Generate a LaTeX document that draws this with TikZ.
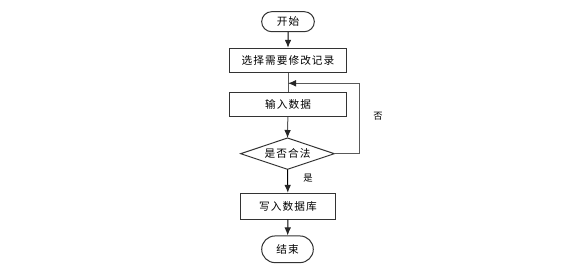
\documentclass[tikz,border=0pt]{standalone}
\usepackage{fontspec}
\newfontfamily\cjk[LetterSpace=10]{Noto Sans CJK SC}
\usetikzlibrary{shapes.misc,arrows.meta}
\begin{document}
\begin{tikzpicture}[x=0.75pt,y=-0.75pt,
  every node/.style={font=\cjk\fontsize{8pt}{9.6pt}\selectfont, inner sep=0pt},
  box/.style={draw=black!80, line width=0.75pt, rectangle, anchor=center},
  term/.style={draw=black!80, line width=0.75pt, rounded rectangle, anchor=center},
  lbl/.style={font=\cjk\fontsize{7pt}{8.4pt}\selectfont},
  conn/.style={draw=black!65, line width=0.75pt, -{Latex[length=6pt,width=5pt,color=black!85]}},
  plain/.style={draw=black!65, line width=0.75pt}]
\useasboundingbox (0,0) rectangle (568,271);
\node[term, minimum width=39.5pt, minimum height=15pt] (start) at (288,21.7) {开始};
\node[box, minimum width=88pt, minimum height=18.3pt] (b1) at (288,60.5) {选择需要修改记录};
\node[box, minimum width=88pt, minimum height=18pt] (b2) at (288,104.7) {输入数据};
\path (240.7,153.7) coordinate (dl) (334.3,153.7) coordinate (dr) (287.5,138) coordinate (dt) (287.5,169.3) coordinate (db);
\draw[draw=black!80, line width=0.75pt] (dl) -- (dt) -- (dr) -- (db) -- cycle;
\node (d) at (287.5,153.7) {是否合法};
\node[box, minimum width=70.7pt, minimum height=19.3pt] (b3) at (288,206.2) {写入数据库};
\node[term, minimum width=38.7pt, minimum height=20pt] (end) at (287.5,249.3) {结束};
\node[lbl] (no) at (378,116.7) {否};
\node[lbl] (yes) at (308,178.3) {是};
\coordinate (loopR) at (359.3,83.3);
\coordinate (loopT) at (288,83.3);
\draw[conn, draw=black] (start) -- (b1);
\draw[plain] (b1) -- (b2);
\draw[conn] (b2) -- (dt);
\draw[plain] (dr) -- (dr -| loopR) -- (loopR);
\draw[conn] (loopR) -- (loopT);
\draw[conn, draw=black] (db) -- (b3);
\draw[conn, draw=black] (b3) -- (end);
\end{tikzpicture}
\end{document}
